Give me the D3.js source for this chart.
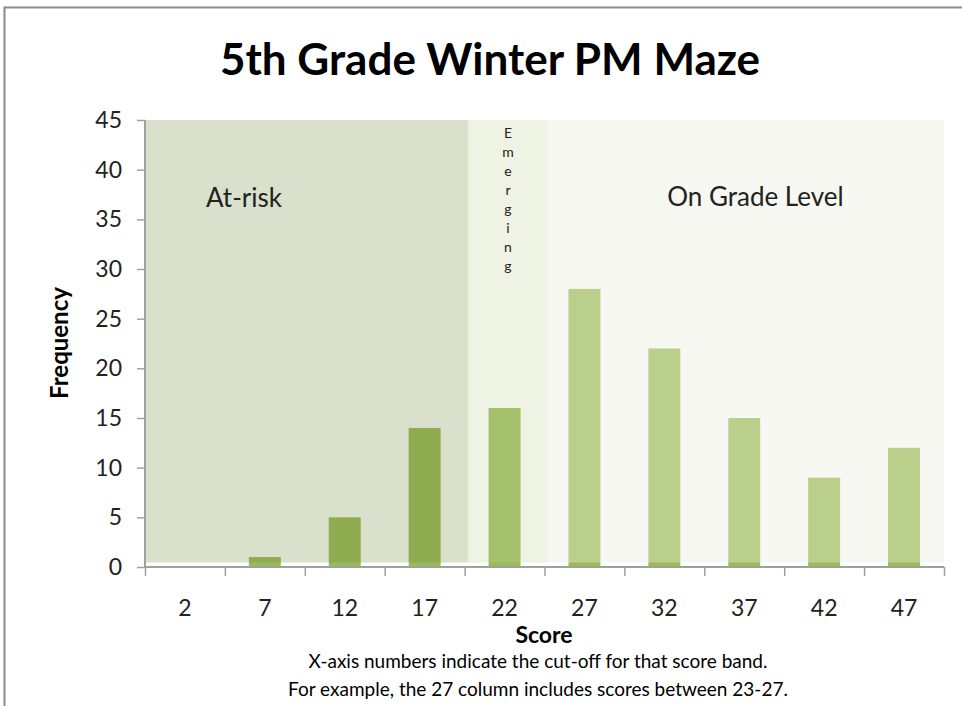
<!DOCTYPE html>
<html>
<head>
<meta charset="utf-8">
<script src="https://cdn.jsdelivr.net/npm/d3@7"></script>
<style>
  body { margin: 0; background: #fff; }
  text { font-family: Lato, "Open Sans", sans-serif; fill: #222; }
</style>
</head>
<body>
<div id="chart"></div>
<script>
const scores = ["2", "7", "12", "17", "22", "27", "32", "37", "42", "47"];
const frequency = [0, 1, 5, 14, 16, 28, 22, 15, 9, 12];
const yTicks = [0, 5, 10, 15, 20, 25, 30, 35, 40, 45];

// score bands shaded behind the bars (start / end in column units)
const bandNames = ["At-risk", "Emerging", "On Grade Level"];
const bandStart = [0, 4.03, 5.03];
const bandEnd = [4.03, 5.03, 10];
const bandColors = ["rgba(108,136,56,0.26)", "rgba(190,210,145,0.26)", "rgba(234,237,219,0.4)"];

const footnote = [
    "X-axis numbers indicate the cut-off for that score band.",
    "For example, the 27 column includes scores between 23-27."
];

const W = 962, H = 706;
const margin = { top: 120, right: 18, bottom: 139, left: 145 };
const width = W - margin.left - margin.right,
    height = H - margin.top - margin.bottom;

const svg = d3.select("#chart")
    .append("svg")
    .attr("width", W)
    .attr("height", H);

// outer frame
svg.append("rect")
    .attr("x", 4.5).attr("y", 7.5)
    .attr("width", W + 20).attr("height", H + 20)
    .attr("fill", "none")
    .attr("stroke", "#8a8a8a")
    .attr("stroke-width", 2);

svg.append("text")
    .attr("x", 490).attr("y", 75)
    .attr("text-anchor", "middle")
    .style("font-size", "44px")
    .style("font-weight", "bold")
    .style("fill", "#000")
    .text("5th Grade Winter PM Maze");

const g = svg.append("g")
    .attr("transform", "translate(" + margin.left + "," + margin.top + ")");

const x = d3.scaleBand(scores, [0, width]).paddingInner(0.6).paddingOuter(0.3);
const xCol = d3.scaleLinear([0, scores.length], [0, width]);
const y = d3.scaleLinear([0, 45], [height, 0]);

// bars
g.append("g")
    .selectAll("rect")
    .data(frequency)
    .enter()
    .append("rect")
    .attr("x", (d, i) => x(scores[i]))
    .attr("width", x.bandwidth())
    .attr("y", d => y(d))
    .attr("height", d => y(0) - y(d))
    .attr("fill", "#9bbb59");

// translucent bands over the bars
g.append("g")
    .selectAll("rect")
    .data(bandNames)
    .enter()
    .append("rect")
    .attr("x", (d, i) => xCol(bandStart[i]) + 1)
    .attr("width", (d, i) => xCol(bandEnd[i]) - xCol(bandStart[i]) - (i == 2 ? 1 : 0))
    .attr("y", y(45))
    .attr("height", y(0.45) - y(45))
    .attr("fill", (d, i) => bandColors[i]);

// band labels
g.append("text")
    .attr("x", 61).attr("y", 87)
    .style("font-size", "26px")
    .text(bandNames[0]);

g.append("text")
    .attr("x", xCol(7.64)).attr("y", 86)
    .attr("text-anchor", "middle")
    .style("font-size", "26px")
    .text(bandNames[2]);

g.append("g")
    .selectAll("text")
    .data(bandNames[1].split(""))
    .enter()
    .append("text")
    .attr("x", xCol(4.53) + 1)
    .attr("y", (d, i) => 18 + i * 19)
    .attr("text-anchor", "middle")
    .style("font-size", "14px")
    .text(d => d);

// axes
const axisColor = "#a0a0a0";

const yAxis = g.append("g")
    .call(d3.axisLeft(y).tickValues(yTicks).tickSize(8).tickPadding(15));
yAxis.selectAll("text").style("font-size", "23px").style("font-family", "Lato, sans-serif").style("fill", "#222");

const xTicks = g.append("g")
    .attr("transform", "translate(0," + height + ")")
    .call(d3.axisBottom(xCol).tickValues(d3.range(scores.length + 1)).tickSize(9).tickFormat(""));

const xLabels = g.append("g")
    .attr("transform", "translate(0," + height + ")")
    .call(d3.axisBottom(x).tickSize(0).tickPadding(33));
xLabels.select(".domain").remove();
xLabels.selectAll("text").style("font-size", "23px").style("font-family", "Lato, sans-serif").style("fill", "#222");

[yAxis, xTicks].forEach(a => {
    a.select(".domain").attr("stroke", axisColor).attr("stroke-width", 2);
    a.selectAll(".tick line").attr("stroke", axisColor).attr("stroke-width", 1.5);
});
yAxis.select(".domain").attr("d", "M0," + y(45) + "V" + y(0));
xTicks.select(".domain").attr("d", "M0,0H" + width);

// axis titles
svg.append("text")
    .attr("transform", "translate(68,343) rotate(-90)")
    .attr("text-anchor", "middle")
    .style("font-size", "24px")
    .style("font-weight", "bold")
    .style("fill", "#000")
    .text("Frequency");

svg.append("text")
    .attr("x", 544).attr("y", 643)
    .attr("text-anchor", "middle")
    .style("font-size", "23px")
    .style("font-weight", "bold")
    .style("fill", "#000")
    .text("Score");

svg.append("g")
    .selectAll("text")
    .data(footnote)
    .enter()
    .append("text")
    .attr("x", 538)
    .attr("y", (d, i) => 668 + i * 28)
    .attr("text-anchor", "middle")
    .style("font-size", "19px")
    .style("fill", "#000")
    .text(d => d);
</script>
</body>
</html>
